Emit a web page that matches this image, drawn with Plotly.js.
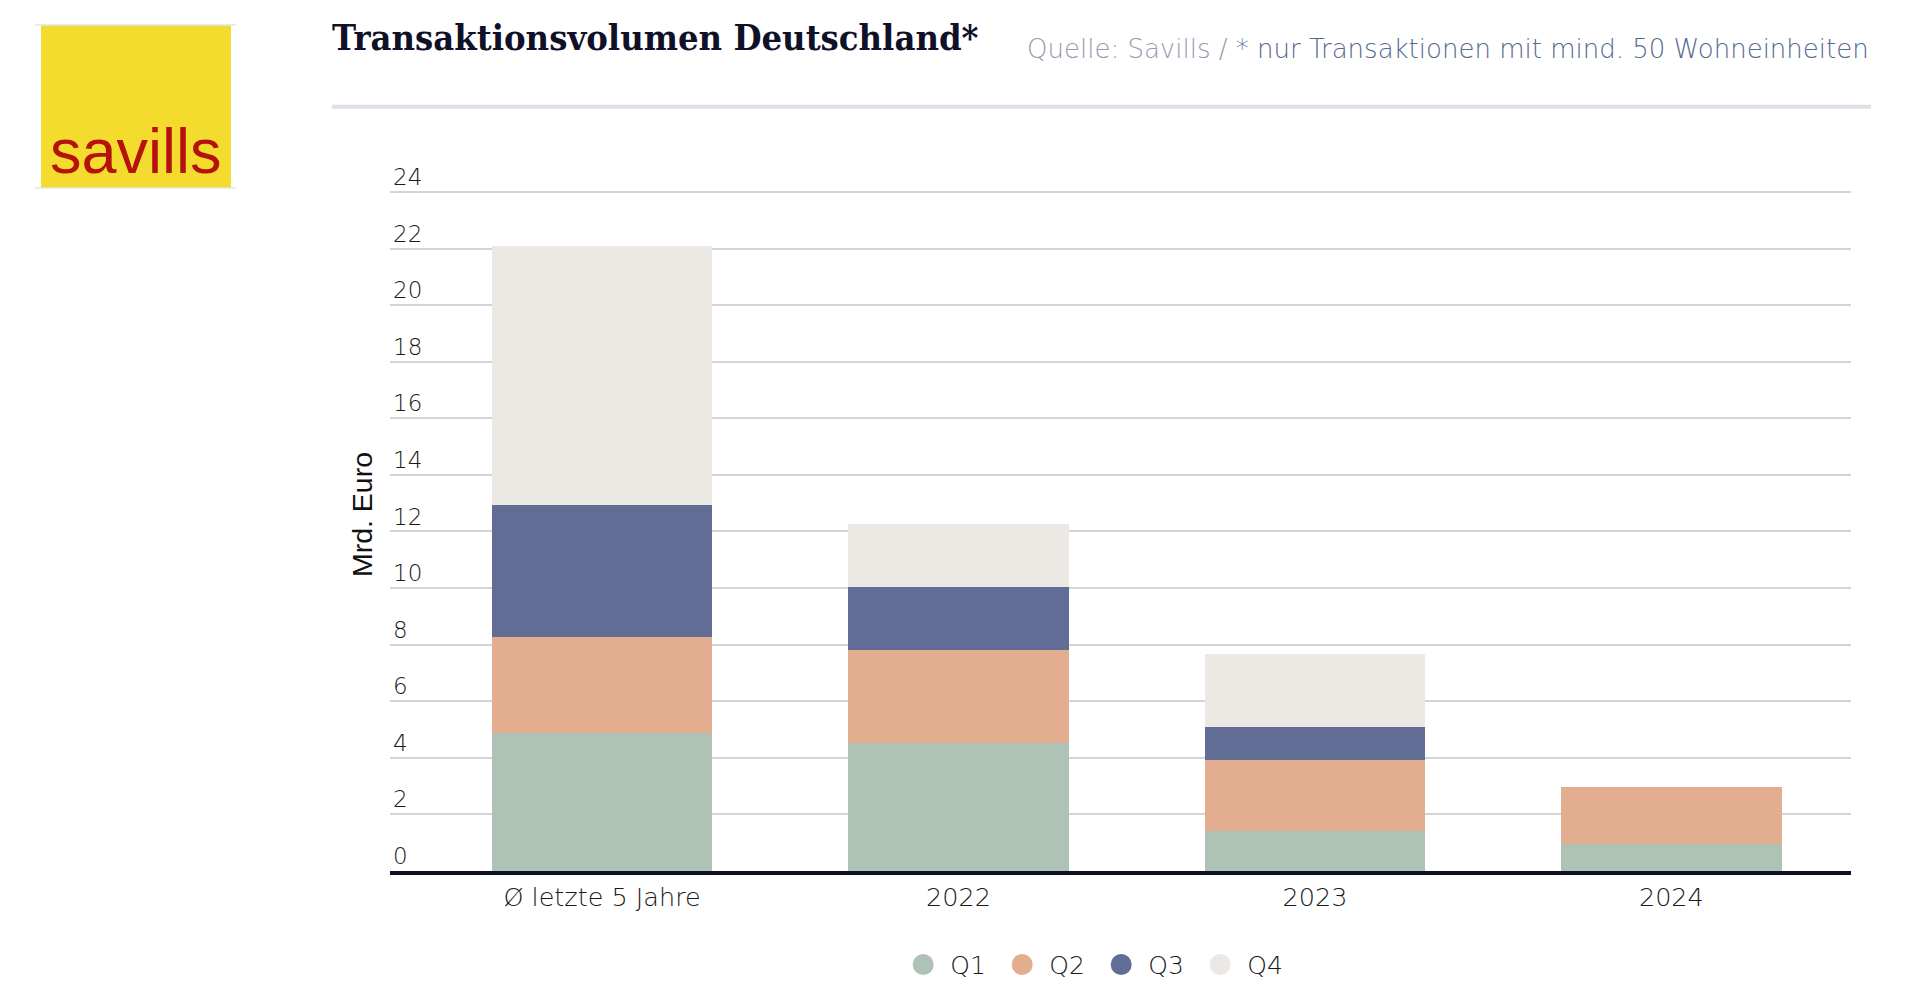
<!DOCTYPE html>
<html>
<head>
<meta charset="utf-8">
<script src="https://cdn.plot.ly/plotly-3.0.1.min.js"></script>
<style>
  html, body { margin: 0; padding: 0; background: #ffffff; }
  #chart { width: 1920px; height: 1000px; }
</style>
</head>
<body>
<div id="chart"></div>
<script>
// ---- data ----
const categories = ['Ø letzte 5 Jahre', '2022', '2023', '2024'];
const seriesNames = ['Q1', 'Q2', 'Q3', 'Q4'];
const q1 = [4.87, 4.52, 1.40, 0.96];
const q2 = [3.39, 3.28, 2.51, 2.02];
const q3 = [4.68, 2.24, 1.18, 0];
const q4 = [9.15, 2.24, 2.58, 0];
const yTicks = [0, 2, 4, 6, 8, 10, 12, 14, 16, 18, 20, 22, 24];

const titleText = 'Transaktionsvolumen Deutschland*';
const sourceText = 'Quelle: Savills / * nur Transaktionen mit mind. 50 Wohneinheiten';
const yTitle = 'Mrd. Euro';

// ---- styles ----
const colors = ['#afc2b6', '#e3ae8f', '#626d96', '#ece8e3'];
const lightFont = '"DejaVu Sans", Inter, sans-serif';
const values = [q1, q2, q3, q4];

const traces = [];
values.forEach((v, i) => {
  traces.push({
    type: 'bar',
    name: seriesNames[i],
    x: categories,
    y: v,
    marker: { color: colors[i], line: { width: 0 } },
    showlegend: false,
    hoverinfo: 'skip'
  });
});
// legend entries (round markers)
seriesNames.forEach((n, i) => {
  traces.push({
    type: 'scatter',
    mode: 'markers',
    name: n,
    x: [null],
    y: [null],
    marker: { symbol: 'circle', size: 16, color: colors[i], line: { color: colors[i], width: 5 } },
    showlegend: true,
    hoverinfo: 'skip'
  });
});

// pixel helpers for paper coords (plot: x 390..1851, y 157.8..888)
const L = 390, R = 1851, T = 157.8, B = 888;
const px = x => (x - L) / (R - L);
const py = y => (B - y) / (B - T);

const layout = {
  width: 1920,
  height: 1000,
  margin: { l: L, r: 1920 - R, t: T, b: 1000 - B, pad: 0 },
  paper_bgcolor: '#ffffff',
  plot_bgcolor: '#ffffff',
  barmode: 'stack',
  bargap: 0.381,
  showlegend: true,
  title: {
    text: titleText,
    x: 332 / 1920,
    xref: 'container',
    xanchor: 'left',
    y: 1 - 37 / 1000,
    yref: 'container',
    yanchor: 'middle',
    font: { family: '"DejaVu Serif Condensed", "DejaVu Serif", serif', size: 36, weight: 700, color: '#0f1128' }
  },
  xaxis: {
    type: 'category',
    range: [-0.595, 3.504],
    showline: true,
    linecolor: '#0e1024',
    linewidth: 4,
    showgrid: false,
    zeroline: false,
    ticks: '',
    tickfont: { family: lightFont, size: 25.5, weight: 200, color: '#1a1a1a' },
    fixedrange: true
  },
  yaxis: {
    range: [0, 25.2],
    tickvals: yTicks,
    ticktext: yTicks.map(String),
    showgrid: true,
    gridcolor: '#d3d3d8',
    gridwidth: 2,
    zeroline: false,
    showline: false,
    ticks: '',
    ticklabelposition: 'inside',
    ticklabelshift: -15,
    ticklabelstandoff: 0,
    tickfont: { family: lightFont, size: 23, weight: 200, color: '#1a1a1a' },
    title: {
      text: yTitle,
      font: { family: '"Liberation Sans", Arial, sans-serif', size: 28.5, color: '#111111' },
      standoff: 12
    },
    fixedrange: true
  },
  legend: {
    orientation: 'h',
    traceorder: 'normal',
    x: 0.482,
    xanchor: 'center',
    y: py(984),
    yanchor: 'middle',
    itemwidth: 44,
    entrywidth: 40,
    font: { family: lightFont, size: 25, weight: 200, color: '#1a1a1a' },
    itemclick: false,
    itemdoubleclick: false
  },
  shapes: [
    { type: 'line', xref: 'paper', yref: 'paper', x0: px(332), x1: px(1871), y0: py(105.4), y1: py(105.4),
      line: { color: '#dde0e7', width: 4 } },
    { type: 'rect', xref: 'paper', yref: 'paper', x0: px(41), x1: px(231), y0: py(188), y1: py(22),
      fillcolor: '#f4dc2f', line: { width: 0 } },
    { type: 'line', xref: 'paper', yref: 'paper', x0: px(35), x1: px(236), y0: py(21.5), y1: py(21.5),
      line: { color: '#dadada', width: 1 } },
    { type: 'line', xref: 'paper', yref: 'paper', x0: px(35), x1: px(236), y0: py(188.5), y1: py(188.5),
      line: { color: '#dadada', width: 1 } }
  ],
  annotations: [
    {
      xref: 'paper', yref: 'paper', x: px(1871), y: py(46.6), xanchor: 'right', yanchor: 'middle',
      showarrow: false,
      text: '<span style="color:#939cb0">Quelle: Savills / </span><span style="color:#56698f">* nur Transaktionen mit mind. 50 Wohneinheiten</span>',
      font: { family: lightFont, size: 26, weight: 200, color: '#56698f' }
    },
    {
      xref: 'paper', yref: 'paper', x: px(136), y: py(151), xanchor: 'center', yanchor: 'middle',
      showarrow: false,
      text: 'savills',
      font: { family: '"Liberation Sans", Arial, sans-serif', size: 63, color: '#b5120e' }
    }
  ]
};

Plotly.newPlot('chart', traces, layout, { displayModeBar: false, responsive: false });
</script>
</body>
</html>
